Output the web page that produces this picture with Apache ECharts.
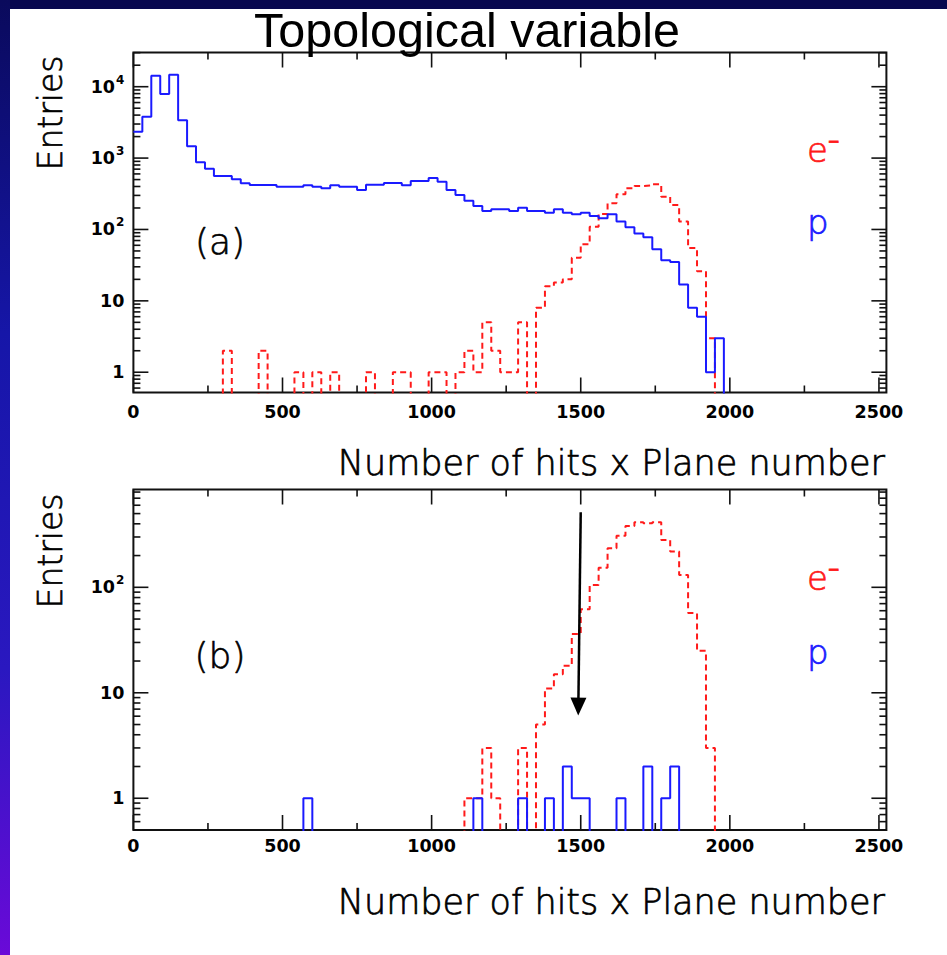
<!DOCTYPE html>
<html>
<head>
<meta charset="utf-8">
<script src="https://cdn.jsdelivr.net/npm/echarts@6/dist/echarts.min.js"></script>
<style>
html,body{margin:0;padding:0;background:#fff;}
#chart{width:947px;height:955px;}
</style>
</head>
<body>
<div id="chart"></div>
<script>
// ---------------- data ----------------
const binWidth = 30; // histogram bin width (x units), bins start at 0

// panel (a): all events
const topElectron = [0,0,0,0,0,0,0,0,0,0, 2,0,0,0,2,0,0,0,1,0, 1,0,1,0,0,0,1,0,0,1,
  1,0,0,1,1,0,1,2,1,5, 2,1,1,5,0,8,16,18,20,40, 62,109,165,233,311,378,407,416,430,288,
  220,129,55,26,3,0];
const topProton = [2340,3800,14250,7900,14700,3380,1463,873,711,561, 561,505,444,420,420,420,397,397,397,416,
  397,378,416,397,397,357,424,424,448,448, 416,478,478,525,467,357,304,253,213,182,
  192,192,182,202,182,182,172,192,172,163, 172,155,144,163,129,107,88,78,53,37,
  35,17,8,6,1,3];

// panel (b): after cut
const botElectron = [0,0,0,0,0,0,0,0,0,0, 0,0,0,0,0,0,0,0,0,0, 0,0,0,0,0,0,0,0,0,0,
  0,0,0,0,0,0,0,1,1,3, 1,0,0,3,0,5,11,15,18,36, 62,105,153,234,308,381,413,404,413,281,
  218,131,57,25,3,0];
const botProton = [0,0,0,0,0,0,0,0,0,0, 0,0,0,0,0,0,0,0,0,1, 0,0,0,0,0,0,0,0,0,0,
  0,0,0,0,0,0,0,0,1,0, 0,0,0,1,0,0,1,0,2,1, 1,0,0,0,1,0,0,2,0,1,
  2,0,0,0,0,0];

const xTickLabels = [0, 500, 1000, 1500, 2000, 2500];
const xMinorTickValues = [250, 750, 1250, 1750, 2250];
const yMajorTickValues = [1, 10, 100, 1000, 10000];
const yMinorTickValues = [0.6,0.7,0.8,0.9, 2,3,4,5,6,7,8,9, 20,30,40,50,60,70,80,90,
  200,300,400,500,600,700,800,900, 2000,3000,4000,5000,6000,7000,8000,9000, 20000,30000];

const arrowStart = [1500, 515];
const arrowEnd = [1492, 7.4];

// ---------------- helpers ----------------
const zeroFloor = 0.05; // empty bins drop below the log-axis floor (clipped)
function histPoints(counts) {
  const pts = counts.map((c, i) => [i * binWidth, c > 0 ? c : zeroFloor]);
  pts.push([counts.length * binWidth, zeroFloor]);
  return pts;
}
function logLabel(v) {
  const e = Math.log10(v);
  const r = Math.round(e);
  if (Math.abs(e - r) > 1e-6 || r < 0) return '';
  if (r === 0) return '{b|1}';
  if (r === 1) return '{b|10}';
  return '{b|10}{e|' + r + '}';
}
function tickData(yMin, yMax) {
  const d = [];
  yMajorTickValues.forEach(v => { if (v > yMin && v < yMax) d.push([0, v, 0, 15]); });
  yMinorTickValues.forEach(v => { if (v > yMin && v < yMax) d.push([0, v, 0, 7]); });
  xTickLabels.forEach(v => d.push([v, 1, 1, 15]));
  xMinorTickValues.forEach(v => d.push([v, 1, 1, 7]));
  return d;
}
function renderTick(params, api) {
  const cs = params.coordSys;
  const p = api.coord([api.value(0), api.value(1)]);
  const len = api.value(3);
  const st = {stroke: '#111', lineWidth: 1.6};
  if (api.value(2) === 0) {
    return {type: 'group', children: [
      {type: 'line', shape: {x1: cs.x, y1: p[1], x2: cs.x + len, y2: p[1]}, style: st},
      {type: 'line', shape: {x1: cs.x + cs.width - len, y1: p[1], x2: cs.x + cs.width, y2: p[1]}, style: st}
    ]};
  }
  return {type: 'group', children: [
    {type: 'line', shape: {x1: p[0], y1: cs.y + cs.height, x2: p[0], y2: cs.y + cs.height - len}, style: st},
    {type: 'line', shape: {x1: p[0], y1: cs.y, x2: p[0], y2: cs.y + len}, style: st}
  ]};
}

const TICK_FONT = '"DejaVu Sans", sans-serif';
const TEXT_FONT = '"DejaVu Sans", sans-serif';
const BLUE = '#1a1aff', RED = '#ff1a1a';

const yRanges = [[0.52, 30140], [0.5, 846]];

function xAxisCfg(gridIndex, margin) {
  return {
    type: 'value', gridIndex, min: 0, max: 2525, interval: 500,
    axisLine: {show: false}, axisTick: {show: false}, splitLine: {show: false},
    axisLabel: {
      margin, color: '#000', fontFamily: TICK_FONT, fontWeight: 'bold', fontSize: 17.5,
      formatter: v => (xTickLabels.indexOf(v) >= 0 ? String(v) : '')
    }
  };
}
function yAxisCfg(gridIndex) {
  return {
    type: 'log', logBase: 10, gridIndex, min: yRanges[gridIndex][0], max: yRanges[gridIndex][1],
    axisLine: {show: false}, axisTick: {show: false}, splitLine: {show: false}, minorTick: {show: false},
    axisLabel: {
      margin: 9, color: '#000', formatter: logLabel,
      rich: {
        b: {fontFamily: TICK_FONT, fontWeight: 'bold', fontSize: 17.5, color: '#000'},
        e: {fontFamily: TICK_FONT, fontWeight: 'bold', fontSize: 12, color: '#000', verticalAlign: 'top', padding: [0, 0, 14, 1]}
      }
    }
  };
}
function histSeries(name, counts, color, dashed, idx) {
  return {
    name, type: 'line', xAxisIndex: idx, yAxisIndex: idx, data: histPoints(counts),
    step: 'end', symbol: 'none', showSymbol: false, clip: true, silent: true,
    lineStyle: {color, width: 2, type: dashed ? [6, 4] : 'solid'}, z: dashed ? 3 : 4
  };
}

const chart = echarts.init(document.getElementById('chart'), null, {renderer: 'svg', width: 947, height: 955});

const bottomProtonSeries = histSeries('p', botProton, BLUE, false, 1);
bottomProtonSeries.markLine = {
  silent: true, symbol: ['none', 'triangle'], symbolSize: [16, 18], animation: false,
  label: {show: false}, lineStyle: {color: '#000', width: 2.5, type: 'solid'},
  data: [[{coord: arrowStart}, {coord: arrowEnd}]]
};

const txt = (x, y, text, font, fill, align, extra, outline) => Object.assign({
  type: 'text', silent: true, x, y,
  style: Object.assign({text, font, fill, align, verticalAlign: 'middle', textAlign: align, textVerticalAlign: 'middle'},
    outline ? {stroke: fill, lineWidth: outline} : {})
}, extra || {});

chart.setOption({
  animation: false,
  backgroundColor: '#ffffff',
  grid: [
    {left: 133.4, top: 52.5, width: 753, height: 340, show: true, borderColor: '#111', borderWidth: 2, backgroundColor: 'transparent'},
    {left: 133.4, top: 489.5, width: 753, height: 340.5, show: true, borderColor: '#111', borderWidth: 2, backgroundColor: 'transparent'}
  ],
  xAxis: [xAxisCfg(0, 10), xAxisCfg(1, 7)],
  yAxis: [yAxisCfg(0), yAxisCfg(1)],
  series: [
    histSeries('e-', topElectron, RED, true, 0),
    histSeries('p', topProton, BLUE, false, 0),
    histSeries('e-', botElectron, RED, true, 1),
    bottomProtonSeries,
    {type: 'custom', xAxisIndex: 0, yAxisIndex: 0, data: tickData(yRanges[0][0], yRanges[0][1]), renderItem: renderTick, silent: true, z: 5},
    {type: 'custom', xAxisIndex: 1, yAxisIndex: 1, data: tickData(yRanges[1][0], yRanges[1][1]), renderItem: renderTick, silent: true, z: 5}
  ],
  graphic: [
    {type: 'rect', silent: true, shape: {x: 0, y: 0, width: 947, height: 9}, style: {fill: '#08084e'}},
    {type: 'rect', silent: true, shape: {x: 0, y: 0, width: 10, height: 955}, style: {fill: new echarts.graphic.LinearGradient(0, 0, 0, 1, [
      {offset: 0, color: '#0a0a5c'}, {offset: 0.35, color: '#1616a8'}, {offset: 0.7, color: '#2a18c0'}, {offset: 1, color: '#6a0ad8'}])}},
    txt(467, 30, 'Topological variable', '48.5px "Liberation Sans", Arial, sans-serif', '#000', 'center'),
    txt(885, 463, 'Number of hits x Plane number', '300 35px ' + TEXT_FONT, '#000', 'right', null, 0.7),
    txt(885, 902, 'Number of hits x Plane number', '300 35px ' + TEXT_FONT, '#000', 'right', null, 0.7),
    txt(50, 113, 'Entries', '300 33px ' + TEXT_FONT, '#000', 'center', {rotation: Math.PI / 2}, 0.7),
    txt(50, 551, 'Entries', '300 33px ' + TEXT_FONT, '#000', 'center', {rotation: Math.PI / 2}, 0.7),
    txt(220, 241, '(a)', '300 36px ' + TEXT_FONT, '#000', 'center', null, 0.6),
    txt(220, 655, '(b)', '300 36px ' + TEXT_FONT, '#000', 'center', null, 0.6),
    txt(807, 150, 'e\u207B', '300 34px ' + TEXT_FONT, RED, 'left', null, 0.7),
    txt(807, 222, 'p', '300 34px ' + TEXT_FONT, BLUE, 'left', null, 0.7),
    txt(807, 578, 'e\u207B', '300 34px ' + TEXT_FONT, RED, 'left', null, 0.7),
    txt(807, 652, 'p', '300 34px ' + TEXT_FONT, BLUE, 'left', null, 0.7)
  ]
});
</script>
</body>
</html>
